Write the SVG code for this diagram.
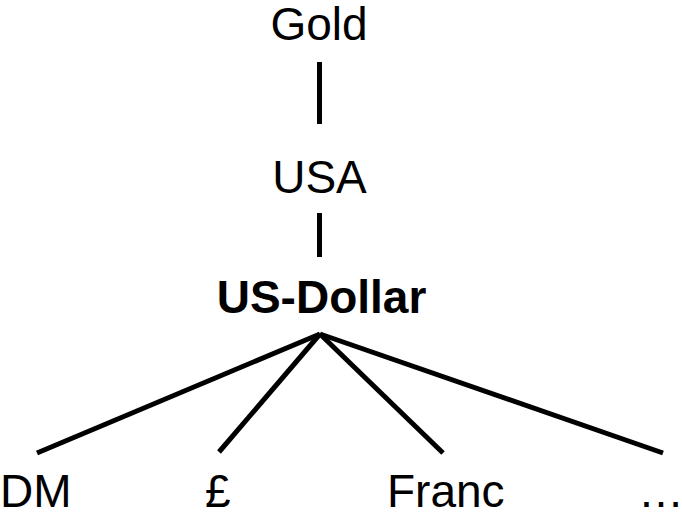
<svg xmlns="http://www.w3.org/2000/svg" width="682" height="514" viewBox="0 0 682 514">
<style>
text{font-family:"Liberation Sans",Arial,sans-serif;font-size:46px;fill:#000}
.b{font-weight:bold}
.c{stroke:#000;stroke-width:5;fill:none;stroke-linecap:butt}
</style>
<rect width="682" height="514" fill="#fff"/>
<g id="connectors">
<line class="c" x1="319.5" y1="62" x2="319.5" y2="124"/>
<line class="c" x1="319.5" y1="213" x2="319.5" y2="257"/>
<line class="c" x1="320" y1="334" x2="37" y2="453"/>
<line class="c" x1="320" y1="334" x2="219" y2="452"/>
<line class="c" x1="320" y1="334" x2="443" y2="453"/>
<line class="c" x1="320" y1="334" x2="663" y2="453"/>
</g>
<g id="gold"><text x="319" y="40" text-anchor="middle">Gold</text></g>
<g id="usa"><text x="319.5" y="193" text-anchor="middle">USA</text></g>
<g id="usdollar"><text class="b" x="321.5" y="313" text-anchor="middle">US-Dollar</text></g>
<g id="dm"><text x="0" y="507">DM</text></g>
<g id="pound"><text x="205" y="507">£</text></g>
<g id="franc"><text x="387" y="507">Franc</text></g>
<g id="more"><text x="638" y="507">…</text></g>
</svg>
